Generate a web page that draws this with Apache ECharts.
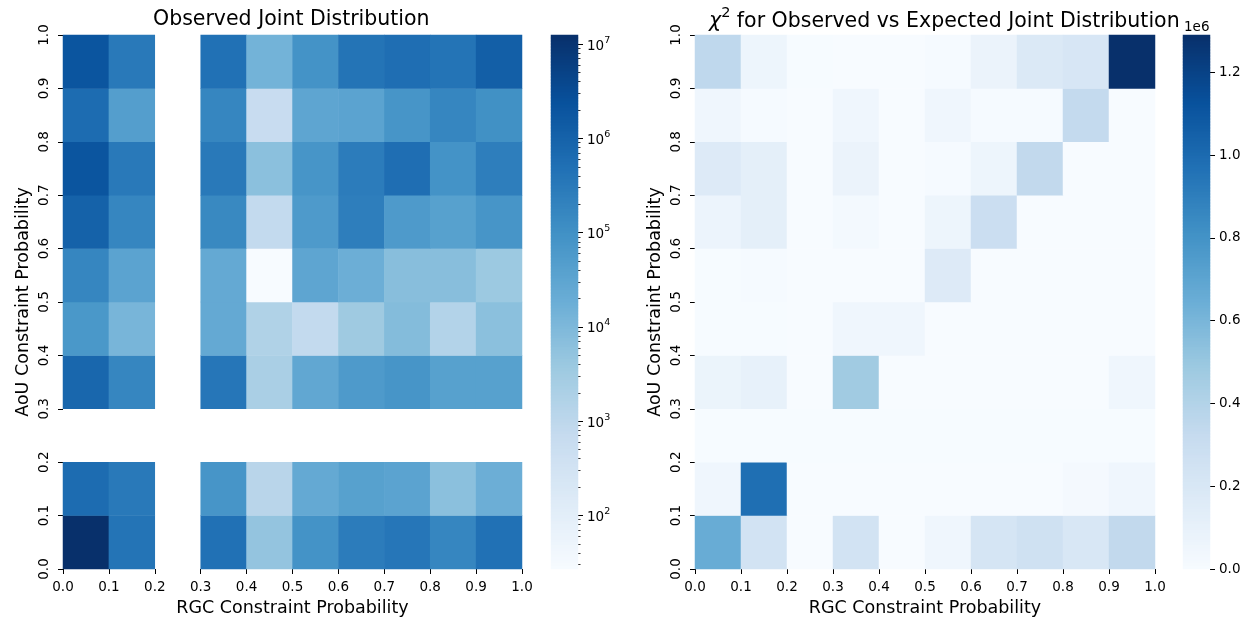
<!DOCTYPE html>
<html><head><meta charset="utf-8">
<script src="https://cdn.jsdelivr.net/npm/echarts@6/dist/echarts.min.js"></script>
<style>html,body{margin:0;padding:0;background:#fff}#c{width:1248px;height:618px}</style>
</head><body><div id="c"></div>
<script>
// ---- data ----
const rgcBins = ['0.0-0.1','0.1-0.2','0.2-0.3','0.3-0.4','0.4-0.5','0.5-0.6','0.6-0.7','0.7-0.8','0.8-0.9','0.9-1.0'];
const aouBins = ['0.0-0.1','0.1-0.2','0.2-0.3','0.3-0.4','0.4-0.5','0.5-0.6','0.6-0.7','0.7-0.8','0.8-0.9','0.9-1.0'];
// rows: index 0 = AoU 0.0-0.1 ; columns = RGC bins ; null = no data
const observedRows = [
  [1.25e7, 4.2e5, null, 4.8e5, 5000, 8.7e4, 2.8e5, 3.7e5, 1.7e5, 4.8e5],
  [6.2e5, 3.2e5, null, 7.8e4, 1200, 2.4e4, 4.0e4, 3.5e4, 6500, 1.8e4],
  [null, null, null, null, null, null, null, null, null, null],
  [8.1e5, 1.7e5, null, 3.7e5, 2200, 2.7e4, 5.9e4, 7.8e4, 4.0e4, 4.0e4],
  [6.8e4, 1.2e4, null, 2.4e4, 1700, 800, 3500, 8300, 1500, 6500],
  [1.7e5, 3.5e4, null, 2.4e4, 27, 3.1e4, 1.8e4, 7200, 7200, 3800],
  [1.05e6, 1.7e5, null, 1.5e5, 800, 5.9e4, 2.5e5, 5.9e4, 4.0e4, 7.8e4],
  [2.0e6, 3.2e5, null, 3.2e5, 6500, 7.8e4, 2.8e5, 5.5e5, 8.7e4, 2.5e5],
  [6.2e5, 4.6e4, null, 1.7e5, 620, 3.1e4, 3.5e4, 7.8e4, 1.7e5, 1.0e5],
  [2.0e6, 3.2e5, null, 4.8e5, 1.4e4, 8.7e4, 4.2e5, 5.5e5, 4.2e5, 1.2e6]
];
const chi2Rows = [
  [655000, 240000, 3000, 240000, 3000, 50000, 220000, 260000, 200000, 340000],
  [50000, 980000, 2000, 2000, 2000, 2000, 2000, 2000, 20000, 50000],
  [4000, 4000, 4000, 4000, 4000, 4000, 4000, 4000, 4000, 4000],
  [75000, 100000, 3000, 470000, 3000, 3000, 3000, 3000, 3000, 50000],
  [5000, 5000, 3000, 50000, 50000, 3000, 3000, 3000, 3000, 3000],
  [5000, 10000, 3000, 3000, 3000, 170000, 3000, 3000, 3000, 3000],
  [70000, 120000, 3000, 25000, 3000, 65000, 290000, 3000, 3000, 3000],
  [170000, 120000, 3000, 80000, 3000, 10000, 65000, 340000, 3000, 3000],
  [50000, 10000, 3000, 50000, 3000, 50000, 10000, 10000, 330000, 3000],
  [350000, 65000, 5000, 3000, 3000, 10000, 80000, 180000, 210000, 1290000]
];
const observedRange = [27, 1.25e7];
const chi2Range = [0, 1.29e6];
const logTickExponents = [2, 3, 4, 5, 6, 7];
const chi2Ticks = [0, 200000, 400000, 600000, 800000, 1000000, 1200000];
const blues = ['#f7fbff','#deebf7','#c6dbef','#9ecae1','#6baed6','#4292c6','#2171b5','#08519c','#08306b'];

// ---- helpers ----
const FONT = 'DejaVu Sans';
const TICK = 13.5, LABEL = 17.5, TITLE = 20.5;
function cells(rows, tf) {
  const out = [];
  rows.forEach((row, y) => row.forEach((v, x) => out.push([x, y, v == null ? '-' : tf(v)])));
  return out;
}
const logMin = Math.log10(observedRange[0]), logMax = Math.log10(observedRange[1]);
const minorLog = [];
for (let e = 1; e <= 7; e++) for (let k = 2; k <= 9; k++) {
  const l = Math.log10(k * Math.pow(10, e));
  if (l >= logMin && l <= logMax) minorLog.push(l);
}
// colorbar stripes (legend scale, spanning each colour range)
const STRIPES = 178;
const stripeIdx = Array.from({length: STRIPES}, (_, i) => i);
function stripes(lo, hi) {
  return stripeIdx.map(i => [0, i, lo + (i + 0.5) / STRIPES * (hi - lo)]);
}
const txt = {fontFamily: FONT, color: '#000'};
function catAxis(gi, data, pos) {
  return {gridIndex: gi, type: 'category', data: data, show: false, position: pos};
}
function valAxisX(gi, name) {
  return {gridIndex: gi, type: 'value', min: 0, max: 1, interval: 0.1, position: 'bottom',
    axisLine: {show: false}, splitLine: {show: false},
    axisTick: {show: true, length: 5, lineStyle: {color: '#000', width: 1}},
    axisLabel: Object.assign({fontSize: TICK, margin: 11, formatter: v => v.toFixed(1)}, txt),
    name: name, nameLocation: 'middle', nameGap: 30,
    nameTextStyle: Object.assign({fontSize: LABEL}, txt)};
}
function valAxisY(gi, name) {
  return {gridIndex: gi, type: 'value', min: 0, max: 1, interval: 0.1, position: 'left',
    axisLine: {show: false}, splitLine: {show: false},
    axisTick: {show: true, length: 5, lineStyle: {color: '#000', width: 1}},
    axisLabel: Object.assign({fontSize: TICK, margin: 12, rotate: 90, formatter: v => v.toFixed(1)}, txt),
    name: name, nameLocation: 'middle', nameGap: 31,
    nameTextStyle: Object.assign({fontSize: LABEL}, txt)};
}
function gridAt(l, t, w, h) {
  return {left: l, top: t, width: w, height: h, containLabel: false, outerBoundsMode: 'none'};
}

const option = {
  backgroundColor: '#fff',
  animation: false,
  title: [
    {text: 'Observed Joint Distribution', left: 153, top: 8, padding: 0,
     textStyle: Object.assign({fontSize: TITLE, fontWeight: 'normal', lineHeight: 24}, txt)},
    {text: '{i|χ}{s|2}{t| for Observed vs Expected Joint Distribution}', left: 709, top: 6, padding: 0,
     textStyle: Object.assign({fontSize: TITLE, fontWeight: 'normal',
       rich: {
         i: {fontFamily: FONT, color: '#000', fontSize: TITLE, fontStyle: 'italic', lineHeight: 26, verticalAlign: 'bottom'},
         s: {fontFamily: FONT, color: '#000', fontSize: 14.5, lineHeight: 16, verticalAlign: 'top'},
         t: {fontFamily: FONT, color: '#000', fontSize: TITLE, lineHeight: 26, verticalAlign: 'bottom'}
       }}, txt)},
    {text: '1e6', left: 1184, top: 19, padding: 0,
     textStyle: Object.assign({fontSize: TICK, fontWeight: 'normal', lineHeight: 16}, txt)}
  ],
  grid: [
    gridAt(63, 35, 459, 534),
    gridAt(695, 35, 460, 534),
    gridAt(551, 35, 27, 534),
    gridAt(1183, 35, 27, 534)
  ],
  xAxis: [
    catAxis(0, rgcBins, 'top'),
    valAxisX(0, 'RGC Constraint Probability'),
    catAxis(1, rgcBins, 'top'),
    valAxisX(1, 'RGC Constraint Probability'),
    catAxis(2, ['cb'], 'bottom'),
    catAxis(3, ['cb'], 'bottom')
  ],
  yAxis: [
    catAxis(0, aouBins, 'right'),
    valAxisY(0, 'AoU Constraint Probability'),
    catAxis(1, aouBins, 'right'),
    valAxisY(1, 'AoU Constraint Probability'),
    catAxis(2, stripeIdx, 'left'),
    {gridIndex: 2, type: 'value', min: logMin, max: logMax, position: 'right',
     axisLine: {show: false}, splitLine: {show: false},
     axisTick: {show: true, length: 5, customValues: logTickExponents, lineStyle: {color: '#000', width: 1}},
     axisLabel: {show: true, margin: 9, customValues: logTickExponents,
       formatter: v => '{b|10}{s|' + Math.round(v) + '}',
       rich: {
         b: {fontFamily: FONT, color: '#000', fontSize: TICK, lineHeight: 18, verticalAlign: 'bottom'},
         s: {fontFamily: FONT, color: '#000', fontSize: 9.5, lineHeight: 11, verticalAlign: 'top'}
       }}},
    {gridIndex: 2, type: 'value', min: logMin, max: logMax, position: 'right',
     axisLine: {show: false}, splitLine: {show: false},
     axisTick: {show: true, length: 2.5, customValues: minorLog, lineStyle: {color: '#000', width: 0.8}},
     axisLabel: {show: false}},
    catAxis(3, stripeIdx, 'left'),
    {gridIndex: 3, type: 'value', min: chi2Range[0], max: chi2Range[1], position: 'right',
     axisLine: {show: false}, splitLine: {show: false},
     axisTick: {show: true, length: 5, customValues: chi2Ticks, lineStyle: {color: '#000', width: 1}},
     axisLabel: Object.assign({fontSize: TICK, margin: 9, customValues: chi2Ticks,
       formatter: v => (v / 1e6).toFixed(1)}, txt)}
  ],
  visualMap: [
    {type: 'continuous', seriesIndex: [0, 2], min: logMin, max: logMax, inRange: {color: blues}, show: false},
    {type: 'continuous', seriesIndex: [1, 3], min: chi2Range[0], max: chi2Range[1], inRange: {color: blues}, show: false}
  ],
  series: [
    {type: 'heatmap', xAxisIndex: 0, yAxisIndex: 0, data: cells(observedRows, v => Math.log10(v)),
     emphasis: {disabled: true}, progressive: 0, itemStyle: {borderWidth: 0}},
    {type: 'heatmap', xAxisIndex: 2, yAxisIndex: 2, data: cells(chi2Rows, v => v),
     emphasis: {disabled: true}, progressive: 0, itemStyle: {borderWidth: 0}},
    {type: 'heatmap', xAxisIndex: 4, yAxisIndex: 4, data: stripes(logMin, logMax),
     emphasis: {disabled: true}, progressive: 0, silent: true},
    {type: 'heatmap', xAxisIndex: 5, yAxisIndex: 7, data: stripes(chi2Range[0], chi2Range[1]),
     emphasis: {disabled: true}, progressive: 0, silent: true}
  ]
};
const chart = echarts.init(document.getElementById('c'));
chart.setOption(option);
</script>
</body></html>
